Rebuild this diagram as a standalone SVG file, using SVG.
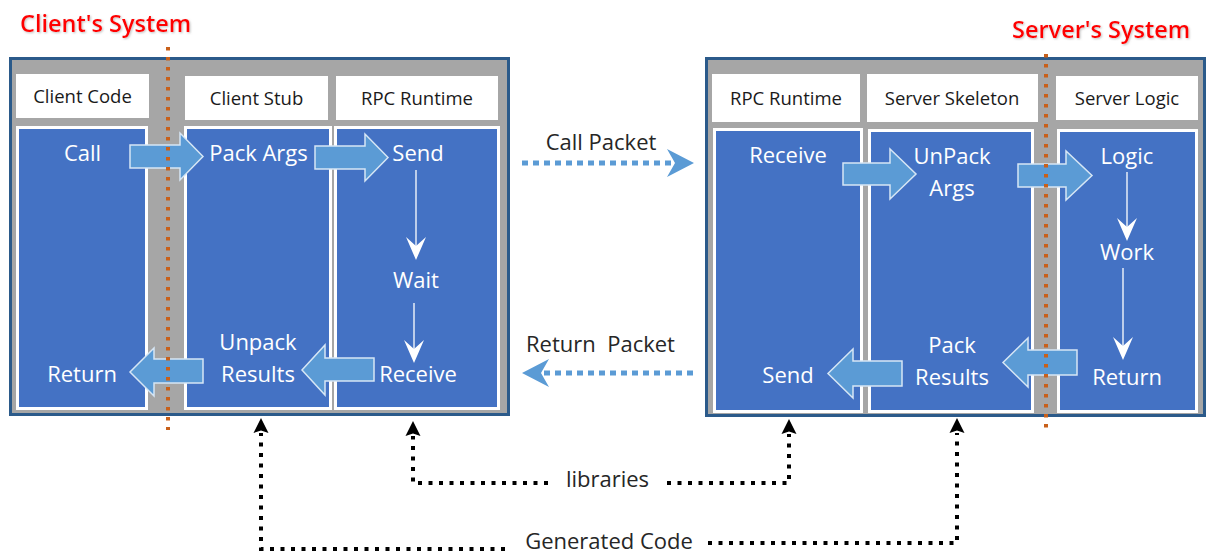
<svg xmlns="http://www.w3.org/2000/svg" width="1211" height="554" viewBox="0 0 1211 554">
<style>
text{font-family:"Open Sans","Liberation Sans",sans-serif}
.sys{fill:#A6A6A6;stroke:#2B5A8A;stroke-width:3}
.hdr{fill:#FFFFFF}
.col{fill:#4472C4;stroke:#FFFFFF;stroke-width:3}
.ht{font-size:18.5px;fill:#1A1A1A;text-anchor:middle}
.wt{font-size:22px;fill:#FFFFFF;text-anchor:middle}
.lbl{font-size:22px;fill:#262626;text-anchor:middle}
.title{font-size:23.5px;font-weight:600;fill:#FF0000}
.blk{fill:#5B9BD5;stroke:#D6E6F5;stroke-width:1.5}
.bnd{fill:none;stroke:#C8601A;stroke-width:4;stroke-dasharray:3.5 6.5}
.flow{fill:none;stroke:#FFFFFF;stroke-width:1.3;marker-end:url(#wchev)}
.pkt{fill:none;stroke:#5B9BD5;stroke-width:5;stroke-dasharray:6 5;marker-end:url(#stealth)}
.dep{fill:none;stroke:#000000;stroke-width:4;stroke-dasharray:4 6.5;marker-end:url(#bhead)}
</style>
<defs>
<marker id="wchev" viewBox="0 -11 24 22" markerWidth="24" markerHeight="22" refX="9" refY="0" orient="auto" markerUnits="userSpaceOnUse">
<path d="M0,-10 L23,0 L0,10 L9,0 Z" fill="#FFFFFF"/>
</marker>
<marker id="stealth" viewBox="0 -15 28 30" markerWidth="28" markerHeight="30" refX="8" refY="0" orient="auto" markerUnits="userSpaceOnUse">
<path d="M0,-14 L27,0 L0,14 L8,0 Z" fill="#5B9BD5"/>
</marker>
<marker id="bhead" viewBox="0 -8 16 16" markerWidth="16" markerHeight="16" refX="0" refY="0" orient="auto" markerUnits="userSpaceOnUse">
<path d="M0,-7.5 L15,0 L0,7.5 L2.5,0 Z" fill="#000000"/>
</marker>
<filter id="sh" x="-10%" y="-30%" width="120%" height="160%">
<feDropShadow dx="1" dy="1" stdDeviation="1" flood-color="#808080" flood-opacity="0.5"/>
</filter>
</defs>

<g id="client-system">
<rect class="sys" x="10.5" y="58.5" width="498" height="356"/>
</g>
<g id="server-system">
<rect class="sys" x="706.5" y="58.5" width="498" height="357"/>
</g>

<g id="client-code">
<rect class="hdr" x="16" y="74" width="133" height="44"/>
<text class="ht" x="82.5" y="102.5">Client Code</text>
<rect class="col" x="17.5" y="127.5" width="129" height="281"/>
<text class="wt" x="82.5" y="161">Call</text>
<text class="wt" x="82" y="382">Return</text>
</g>
<g id="client-stub">
<rect class="hdr" x="185" y="76" width="143" height="44"/>
<text class="ht" x="256.5" y="104.5">Client Stub</text>
<rect class="col" x="185.5" y="127.5" width="145" height="281"/>
<text class="wt" x="258.5" y="161">Pack Args</text>
<text class="wt" x="258" y="350">Unpack</text>
<text class="wt" x="258" y="382">Results</text>
</g>
<g id="client-rpc-runtime">
<rect class="hdr" x="336" y="76" width="162" height="44"/>
<text class="ht" x="417" y="104.5">RPC Runtime</text>
<rect class="col" x="335.5" y="127.5" width="163" height="281"/>
<text class="wt" x="418" y="161">Send</text>
<text class="wt" x="416" y="288">Wait</text>
<text class="wt" x="418" y="382">Receive</text>
</g>

<g id="server-rpc-runtime">
<rect class="hdr" x="712" y="74" width="148" height="48"/>
<text class="ht" x="786" y="104.5">RPC Runtime</text>
<rect class="col" x="714.5" y="129.5" width="147" height="282"/>
<text class="wt" x="788" y="163">Receive</text>
<text class="wt" x="788" y="383">Send</text>
</g>
<g id="server-skeleton">
<rect class="hdr" x="867" y="74" width="171" height="48"/>
<text class="ht" x="952" y="104.5">Server Skeleton</text>
<rect class="col" x="869.5" y="130.5" width="163" height="281"/>
<text class="wt" x="952" y="164">UnPack</text>
<text class="wt" x="952" y="196">Args</text>
<text class="wt" x="952" y="353">Pack</text>
<text class="wt" x="952" y="385">Results</text>
</g>
<g id="server-logic">
<rect class="hdr" x="1056" y="76" width="142" height="44"/>
<text class="ht" x="1127" y="104.5">Server Logic</text>
<rect class="col" x="1058.5" y="130.5" width="138" height="281"/>
<text class="wt" x="1127" y="164">Logic</text>
<text class="wt" x="1127" y="260">Work</text>
<text class="wt" x="1127" y="385">Return</text>
</g>

<g id="connectors">
<polygon class="blk" points="130,145 180,145 180,133 203,156.5 180,180 180,168 130,168"/>
<polygon class="blk" points="315,146 365,146 365,134 388,157.5 365,181 365,169 315,169"/>
<polygon class="blk" points="203,359 154,359 154,348 130,372 154,396 154,383 203,383"/>
<polygon class="blk" points="374,358 325,358 325,345 302,370 325,395 325,381 374,381"/>
<polygon class="blk" points="843,163 890,163 890,149 916,174 890,199 890,185 843,185"/>
<polygon class="blk" points="1018,164 1066,164 1066,151 1092,175.5 1066,200 1066,187 1018,187"/>
<polygon class="blk" points="902,361 853,361 853,349 828,373.5 853,398 853,386 902,386"/>
<polygon class="blk" points="1077,350 1028,350 1028,338 1003,362.5 1028,387 1028,375 1077,375"/>

<path class="flow" d="M416,170 V246"/>
<path class="flow" d="M414,303 V349"/>
<path class="flow" d="M1127,172 V227"/>
<path class="flow" d="M1123,268 V346"/>

<path class="bnd" d="M168,47 V430"/>
<path class="bnd" d="M1046,54 V430"/>

<path class="pkt" d="M522,163 H675"/>
<path class="pkt" d="M693,373 H541"/>

<path class="dep" d="M505,549 H261 V433"/>
<path class="dep" d="M548,483 H413 V436"/>
<path class="dep" d="M667,483 H789 V434"/>
<path class="dep" d="M708,543 H957 V433"/>
</g>

<g id="labels">
<text class="lbl" x="601" y="150">Call Packet</text>
<text class="lbl" x="600.5" y="352" xml:space="preserve">Return  Packet</text>
<text class="lbl" x="607.5" y="487">libraries</text>
<text class="lbl" x="609" y="549">Generated Code</text>
<text class="title" x="20" y="32" filter="url(#sh)">Client's System</text>
<text class="title" x="1012" y="38" filter="url(#sh)">Server's System</text>
</g>
</svg>
